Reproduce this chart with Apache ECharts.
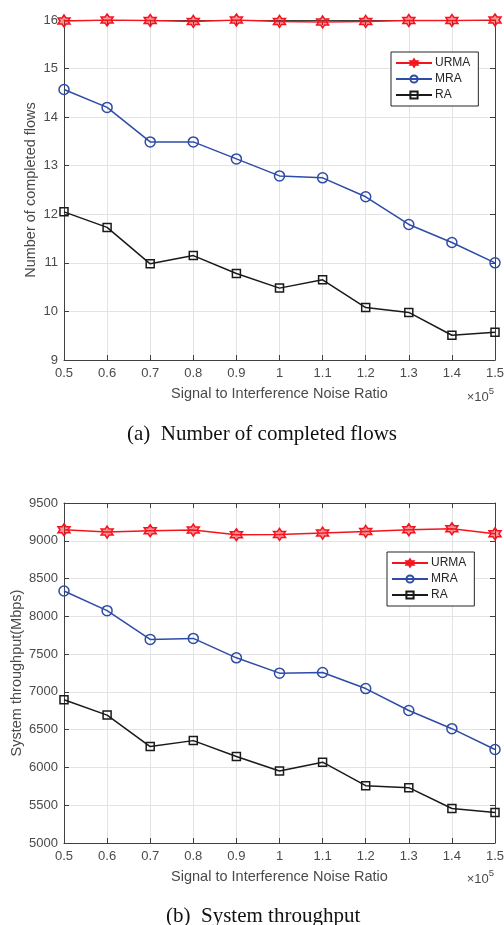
<!DOCTYPE html>
<html>
<head>
<meta charset="utf-8">
<script src="https://cdn.jsdelivr.net/npm/echarts@6/dist/echarts.min.js"></script>
<style>
html,body{margin:0;padding:0;background:#fff;}
#chart{width:504px;height:925px;}
</style>
</head>
<body>
<div id="chart"></div>
<script>
// ---- data ----
var xCategories = ['0.5','0.6','0.7','0.8','0.9','1','1.1','1.2','1.3','1.4','1.5'];
var seriesNames = ['URMA','MRA','RA'];
// (a) Number of completed flows
var flowsURMA = [15.98, 16.00, 15.99, 15.97, 16.00, 15.97, 15.96, 15.97, 15.99, 15.99, 16.00];
var flowsMRA  = [14.57, 14.20, 13.49, 13.49, 13.14, 12.79, 12.75, 12.36, 11.79, 11.42, 11.00];
var flowsRA   = [12.05, 11.73, 10.98, 11.15, 10.78, 10.48, 10.65, 10.08, 9.98, 9.51, 9.57];
// (b) System throughput (Mbps)
var thrURMA = [9146, 9115, 9133, 9142, 9080, 9084, 9102, 9124, 9146, 9159, 9093];
var thrMRA  = [8336, 8075, 7695, 7708, 7451, 7248, 7257, 7044, 6754, 6513, 6237];
var thrRA   = [6895, 6693, 6276, 6355, 6145, 5952, 6070, 5759, 5732, 5456, 5404];
var flowsTicks = {min: 9, max: 16, interval: 1};
var thrTicks = {min: 5000, max: 9500, interval: 500};

var TXT = '#4a4a4a';
var AX = '#404040';
var FONT = 'Liberation Sans, Arial, sans-serif';
var hexagram = 'path://M0,-100 L28.9,-50 L86.6,-50 L57.7,0 L86.6,50 L28.9,50 L0,100 L-28.9,50 L-86.6,50 L-57.7,0 L-86.6,-50 L-28.9,-50 Z';

var styles = {
  URMA: {color: '#f5141e', symbol: hexagram, size: 12, fill: 'rgba(245,20,30,0.45)'},
  MRA:  {color: '#2e4ca6', symbol: 'circle', size: 10, fill: 'rgba(255,255,255,0)'},
  RA:   {color: '#1a1a1a', symbol: 'rect', size: 8, fill: 'rgba(255,255,255,0)'}
};

function mkSeries(name, data, gi) {
  var s = styles[name];
  return {
    name: name, type: 'line', data: data,
    xAxisIndex: gi * 2, yAxisIndex: gi * 2,
    symbol: s.symbol, symbolSize: s.size,
    showAllSymbol: true,
    lineStyle: {color: s.color, width: 1.5},
    itemStyle: {color: s.fill, borderColor: s.color, borderWidth: 1.5},
    emphasis: {disabled: true},
    animation: false,
    z: 5
  };
}

function mainX(gi) {
  return {
    type: 'category', gridIndex: gi, data: xCategories, boundaryGap: false,
    position: 'bottom',
    axisLine: {show: true, onZero: false, lineStyle: {color: AX, width: 1}},
    axisTick: {show: true, inside: true, length: 5, alignWithLabel: true, interval: 0, lineStyle: {color: AX}},
    axisLabel: {color: TXT, fontSize: 13, fontFamily: FONT, margin: 7, interval: 0},
    splitLine: {show: true, interval: 0, lineStyle: {color: '#e3e3e3', width: 1}},
    name: 'Signal to Interference Noise Ratio', nameLocation: 'middle', nameGap: 26,
    nameMoveOverlap: false,
    nameTextStyle: {color: TXT, fontSize: 14.5, fontFamily: FONT}
  };
}
function topX(gi) {
  return {
    type: 'category', gridIndex: gi, data: xCategories, boundaryGap: false,
    position: 'top',
    axisLine: {show: true, onZero: false, lineStyle: {color: AX, width: 1}},
    axisTick: {show: true, inside: true, length: 5, interval: 0, lineStyle: {color: AX}},
    axisLabel: {show: false}, splitLine: {show: false}
  };
}
function mainY(gi, t, name, gap) {
  return {
    type: 'value', gridIndex: gi, min: t.min, max: t.max, interval: t.interval,
    position: 'left',
    axisLine: {show: true, onZero: false, lineStyle: {color: AX, width: 1}},
    axisTick: {show: true, inside: true, length: 5, lineStyle: {color: AX}},
    axisLabel: {color: TXT, fontSize: 13, fontFamily: FONT, margin: 6,
                formatter: function (v) { return String(v); }},
    splitLine: {show: true, lineStyle: {color: '#e3e3e3', width: 1}},
    name: name, nameLocation: 'middle', nameGap: gap,
    nameMoveOverlap: false,
    nameTextStyle: {color: TXT, fontSize: 14.5, fontFamily: FONT}
  };
}
function rightY(gi, t) {
  return {
    type: 'value', gridIndex: gi, min: t.min, max: t.max, interval: t.interval,
    position: 'right',
    axisLine: {show: true, onZero: false, lineStyle: {color: AX, width: 1}},
    axisTick: {show: true, inside: true, length: 5, lineStyle: {color: AX}},
    axisLabel: {show: false}, splitLine: {show: false}
  };
}
function mkLegend(left, top) {
  return {
    data: seriesNames, orient: 'vertical', left: left, top: top,
    itemWidth: 36, itemHeight: 9, itemGap: 4,
    padding: [5, 8, 5, 4],
    borderColor: '#262626', borderWidth: 1, backgroundColor: '#fff',
    textStyle: {color: '#262626', fontSize: 12, fontFamily: FONT, padding: [0, 0, 0, -2]},
    selectedMode: false
  };
}
function x10(top) {
  return {
    type: 'text', right: 10, top: top, z: 10,
    style: {
      text: '{a|×10}{b|5}',
      rich: {
        a: {fontSize: 13, fontFamily: FONT, fill: TXT},
        b: {fontSize: 9.5, fontFamily: FONT, fill: TXT, verticalAlign: 'top', padding: [0, 0, 12, 0]}
      }
    }
  };
}

var chart = echarts.init(document.getElementById('chart'), null, {renderer: 'canvas'});
chart.setOption({
  backgroundColor: '#fff',
  animation: false,
  grid: [
    {left: 64, right: 9, top: 20, height: 340, outerBoundsMode: 'none', containLabel: false},
    {left: 64, right: 9, top: 503, height: 340, outerBoundsMode: 'none', containLabel: false}
  ],
  xAxis: [mainX(0), topX(0), mainX(1), topX(1)],
  yAxis: [
    mainY(0, flowsTicks, 'Number of completed flows', 26), rightY(0, flowsTicks),
    mainY(1, thrTicks, 'System throughput(Mbps)', 40), rightY(1, thrTicks)
  ],
  legend: [mkLegend(391, 52), mkLegend(387, 552)],
  series: [
    mkSeries('URMA', flowsURMA, 0), mkSeries('MRA', flowsMRA, 0), mkSeries('RA', flowsRA, 0),
    mkSeries('URMA', thrURMA, 1), mkSeries('MRA', thrMRA, 1), mkSeries('RA', thrRA, 1)
  ],
  graphic: [
    x10(386), x10(868),
    {type: 'text', left: 127, top: 424, z: 10,
     style: {text: '(a)  Number of completed flows', font: '21px "Liberation Serif", "Times New Roman", serif', fill: '#111'}},
    {type: 'text', left: 166, top: 906, z: 10,
     style: {text: '(b)  System throughput', font: '21px "Liberation Serif", "Times New Roman", serif', fill: '#111'}}
  ]
});
</script>
</body>
</html>
